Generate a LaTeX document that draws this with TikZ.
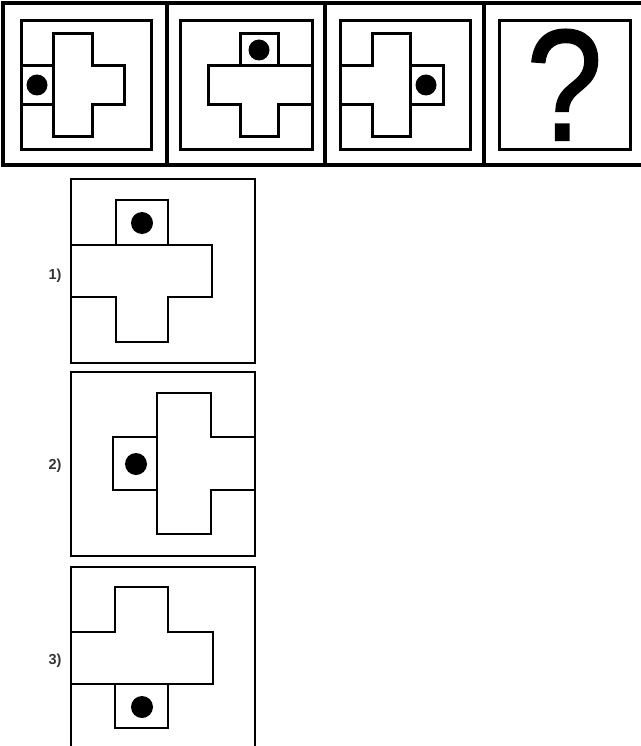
\documentclass[tikz,border=0pt]{standalone}
\usepackage{fontspec}
\setmainfont{Liberation Sans}
\usepackage{tikz}
\usetikzlibrary{positioning}
\definecolor{labelgray}{HTML}{333333}
\font\qmarkfont="Liberation Sans:embolden=1.5" at 158pt

\begin{document}
\begin{tikzpicture}[
		x=1pt, y=-1pt,
		frame/.style={draw=black, line width=4pt},
		cell/.style={draw=black, line width=3pt, line join=miter},
		choice/.style={draw=black, line width=2pt, line join=miter},
		dot/.style={fill=black},
		optlabel/.style={font=\fontsize{14.5}{16}\selectfont\bfseries, text=labelgray, inner sep=0pt}
	]
	\useasboundingbox (0,0) rectangle (640,746);

	% Top row frame
	\draw[frame] (645,3) -- (3,3) -- (3,165) -- (645,165);
	\foreach \xd in {166.5,325,484}
		\draw[frame] (\xd,3) -- (\xd,165);

	% Cell 1
	\draw[cell] (21,21) rectangle (151,150);
	\draw[cell] (53,34) -- (92,34) -- (92,66) -- (124,66) -- (124,105) -- (92,105) -- (92,137) -- (53,137) -- cycle;
	\draw[cell] (21,66) rectangle (53,105);
	\fill[dot] (37,85) circle[radius=10.5];

	% Cell 2
	\draw[cell] (180,21) rectangle (312,150);
	\draw[cell] (208,66) -- (312,66) -- (312,105) -- (278,105) -- (278,137) -- (240,137) -- (240,105) -- (208,105) -- cycle;
	\draw[cell] (240,34) rectangle (278,66);
	\fill[dot] (259,50) circle[radius=10.5];

	% Cell 3
	\draw[cell] (340,21) rectangle (470,150);
	\draw[cell] (372,34) -- (410,34) -- (410,137) -- (372,137) -- (372,105) -- (340,105) -- (340,66) -- (372,66) -- cycle;
	\draw[cell] (410,66) rectangle (443,105);
	\fill[dot] (426,85) circle[radius=10.5];

	% Cell 4
	\draw[cell] (499,21) rectangle (630,150);
	\node[anchor=base, inner sep=0pt, xscale=0.86, font=\qmarkfont] (qmark) at (564.5,140) {?};

	% Option 1
	\draw[choice] (71,179) rectangle (255,363);
	\draw[choice] (71,245) -- (212,245) -- (212,297) -- (168,297) -- (168,342) -- (116,342) -- (116,297) -- (71,297);
	\draw[choice] (116,200) rectangle (168,245);
	\fill[dot] (142,223) circle[radius=11];
	\node[optlabel] (opt1) at (55,276) {1)};

	% Option 2
	\draw[choice] (71,372) rectangle (255,556);
	\draw[choice] (157,393) -- (211,393) -- (211,437) -- (255,437) -- (255,490) -- (211,490) -- (211,534) -- (157,534) -- cycle;
	\draw[choice] (113,437) rectangle (157,490);
	\fill[dot] (136,464) circle[radius=11];
	\node[optlabel] (opt2) at (55,466) {2)};

	% Option 3
	\draw[choice] (71,567) rectangle (255,751);
	\draw[choice] (115,587) -- (168,587) -- (168,632) -- (213,632) -- (213,684) -- (71,684) -- (71,632) -- (115,632) -- cycle;
	\draw[choice] (115,684) rectangle (168,728);
	\fill[dot] (142,707) circle[radius=11];
	\node[optlabel] (opt3) at (55,661) {3)};
\end{tikzpicture}
\end{document}
